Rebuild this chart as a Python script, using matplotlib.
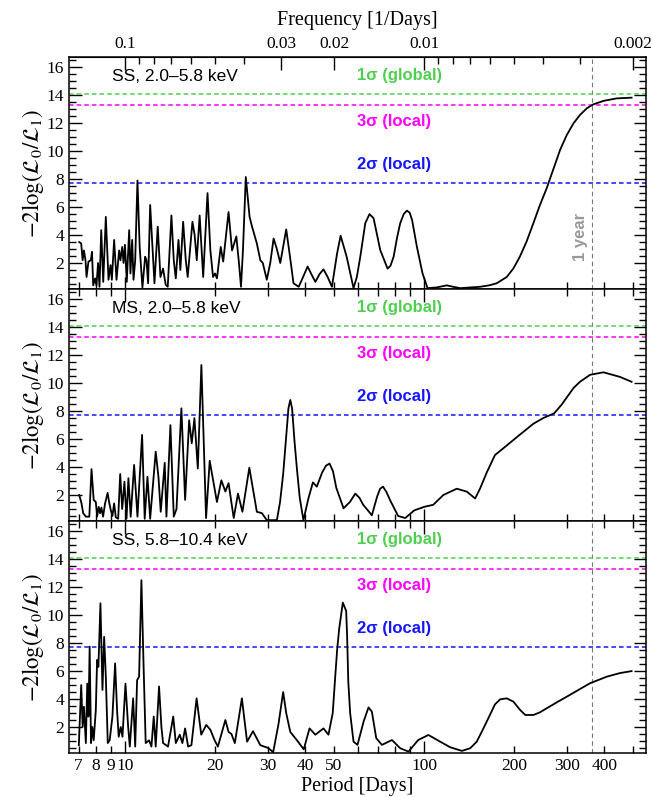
import matplotlib.pyplot as plt
from matplotlib.ticker import FixedLocator, NullFormatter, MultipleLocator

plt.rcParams['font.family'] = 'Liberation Serif'
plt.rcParams['mathtext.fontset'] = 'stix'

# --- data: period [days] vs -2log(L0/L1) ---
ss_soft_period = [7.03, 7.14, 7.22, 7.29, 7.38, 7.44, 7.55, 7.69, 7.76, 7.83, 7.95, 8.03, 8.13, 8.22,
                  8.33, 8.46, 8.63, 8.81, 8.95, 9.04, 9.20, 9.37, 9.56, 9.66, 9.79, 9.89, 10.0, 10.14,
                  10.33, 10.43, 10.57, 10.68, 10.82, 11.01, 11.2, 11.44, 11.68, 11.80, 11.95, 12.14,
                  12.36, 12.55, 12.87, 13.14, 13.41, 13.68, 13.9, 14.3, 14.56, 14.79, 15.1, 15.32,
                  15.65, 15.97, 16.21, 16.81, 17.1, 17.38, 17.77, 18.26, 18.88, 19.3, 19.7, 20.0,
                  20.3, 20.9, 21.3, 22.2, 22.8, 23.57, 24.05, 24.43, 24.8, 25.35, 26.1, 26.6, 27.6,
                  28.35, 28.9, 29.8, 30.6, 31.4, 32.2, 33.06, 34.6, 35.6, 36.6, 38.1, 39.4, 40.8,
                  42.0, 43.3, 44.7, 46.1, 47.6, 49.2, 51.2, 52.6, 55.1, 58.1, 59.6, 61.2, 63.6, 65.7,
                  67.8, 69.5, 71.35, 75.5, 77.2, 79.1, 81.2, 83.2, 85.5, 87.6, 89.5, 91.2, 94.6, 98.8,
                  102.7, 110, 119.1, 125, 132, 143, 154, 165, 175, 189, 199, 209, 220, 232, 244,
                  257, 271, 285, 300, 316, 332, 350, 368, 398, 441, 494]
ss_soft_value = [3.5, 3.4, 2.2, 2.9, 2.2, 1.0, 2.1, 2.2, 2.8, 0.4, 0.9, 0.4, 2.0, 0.3,
                 4.35, 0.65, 5.3, 0.8, 1.85, 0.8, 3.65, 0.8, 2.9, 2.2, 3.15, 2.0, 3.3, 0.65,
                 4.35, 1.25, 3.65, 0.8, 2.2, 7.9, 3.15, 0.25, 2.45, 2.2, 0.55, 6.15,
                 3.15, 0.55, 4.6, 1.0, 1.6, 0.45, 0.3, 5.4, 2.2, 0.9, 3.65, 1.5,
                 4.95, 2.2, 1.0, 4.95, 4.0, 2.2, 5.4, 1.0, 7.0, 2.9, 1.0, 1.25,
                 0.9, 3.15, 2.1, 5.65, 2.9, 3.9, 2.0, 0.3, 2.9, 8.15, 5.3, 4.6, 3.4,
                 2.2, 2.0, 0.8, 2.0, 3.75, 3.0, 2.0, 4.4, 2.5, 0.55, 0.3, 1.0, 1.75,
                 1.2, 0.65, 1.2, 1.55, 1.0, 0.3, 2.7, 3.95, 2.45, 0.2, 1.0, 2.45, 4.85, 5.5,
                 5.2, 4.1, 2.93, 1.6, 1.8, 2.45, 3.8, 4.84, 5.5, 5.75, 5.6, 5.07, 3.17, 1.26,
                 0.2, 0.25, 0.4, 0.3, 0.2, 0.25, 0.3, 0.4, 0.55, 1.0, 1.62, 2.45, 3.52, 4.85, 6.15,
                 7.35, 8.77, 10.1, 11.16, 12.0, 12.59, 13.07, 13.35, 13.6, 13.78, 13.83]

ms_soft_period = [7.03, 7.15, 7.25, 7.40, 7.60, 7.73, 7.86, 7.99, 8.07, 8.17, 8.26, 8.34, 8.45, 8.58,
                  8.75, 8.85, 8.97, 9.08, 9.20, 9.32, 9.49, 9.64, 9.79, 9.96, 10.12, 10.27, 10.45,
                  10.73, 11.01, 11.41, 11.64, 11.89, 12.14, 12.67, 12.94, 13.17, 13.58, 13.76, 14.19,
                  14.56, 14.87, 15.44, 15.89, 16.39, 16.72, 17.07, 17.52, 18.01, 18.67, 19.2, 20.3,
                  21.0, 21.66, 22.2, 23.1, 23.87, 24.7, 26.05, 27.6, 28.7, 29.8, 32.2, 33.0, 33.8,
                  34.6, 35.2, 35.7, 36.2, 36.9, 37.6, 38.4, 39.5, 41.1, 42.5, 43.8, 45.6, 47.0, 48.3,
                  49.6, 50.9, 53.8, 56.5, 58.9, 60.8, 62.6, 66.9, 69.7, 71.3, 72.9, 74.9, 77.1, 81.9,
                  86.5, 92.7, 100.0, 107.3, 116.0, 128.6, 139.0, 148.2, 154.0, 162.3, 172.6, 184.2,
                  204.5, 232.0, 250.0, 272.4, 288.0, 315.8, 332.0, 358.8, 397.8, 451.9, 494]
ms_soft_value = [2.0, 1.45, 0.7, 0.45, 0.45, 3.85, 1.65, 1.5, 0.45, 1.15, 0.7, 1.1, 0.45, 1.4,
                 2.15, 1.5, 0.9, 0.5, 1.4, 0.4, 0.3, 3.5, 1.0, 2.95, 0.3, 3.2, 0.45,
                 4.15, 0.45, 6.3, 0.3, 3.3, 0.3, 5.1, 3.3, 0.8, 4.3, 0.45, 7.0,
                 0.45, 1.0, 8.2, 1.65, 7.35, 5.7, 7.5, 3.9, 11.3, 0.35, 4.45, 1.5,
                 3.05, 2.25, 2.85, 0.35, 2.1, 0.8, 3.95, 0.8, 0.7, 0.2, 0.2, 1.5, 3.5,
                 6.2, 8.2, 8.8, 8.2, 5.8, 3.8, 1.8, 0.2, 1.8, 2.9, 2.6, 3.6, 4.1, 4.25,
                 3.7, 2.5, 1.05, 1.5, 2.1, 1.8, 1.3, 0.55, 1.9, 2.45, 2.6, 2.2, 1.6, 0.5,
                 0.35, 0.9, 1.15, 1.3, 2.0, 2.45, 2.24, 1.75, 2.48, 3.65, 4.86, 5.35,
                 6.15, 7.1, 7.5, 7.85, 8.45, 9.65, 10.1, 10.6, 10.78, 10.45, 10.1]

ss_hard_period = [7.01, 7.14, 7.22, 7.29, 7.40, 7.48, 7.55, 7.62, 7.70, 7.78, 7.86, 7.99, 8.07, 8.15,
                  8.28, 8.41, 8.52, 8.63, 8.76, 8.89, 9.08, 9.27, 9.41, 9.53, 9.68, 9.81, 10.04,
                  10.25, 10.38, 10.65, 10.82, 10.98, 11.15, 11.35, 11.55, 11.73, 12.04, 12.26, 12.48,
                  12.67, 13.0, 13.24, 13.41, 13.93, 14.5, 14.79, 15.25, 15.56, 15.89, 16.26, 16.68,
                  17.36, 17.99, 18.7, 19.3, 19.94, 20.45, 21.66, 22.2, 22.7, 23.3, 24.6, 25.6, 26.8,
                  28.35, 30.1, 31.3, 32.6, 33.8, 34.6, 35.7, 37.9, 39.6, 41.4, 43.3, 46.1, 47.9,
                  49.5, 50.5, 51.2, 52.0, 53.5, 54.9, 55.3, 55.8, 56.6, 58.1, 59.9, 62.8, 65.2, 66.9,
                  69.2, 72.3, 78.1, 83.2, 88.7, 95.6, 103.4, 113.2, 122.3, 133.8, 142.6, 150.0, 157.9,
                  166.0, 172.6, 179.6, 189.0, 199.0, 209.4, 218.0, 232.0, 244.0, 257.0, 278.0, 300.0,
                  328.0, 358.8, 407.9, 451.9, 494]
ss_hard_value = [0.7, 5.0, 2.0, 3.45, 0.85, 5.1, 2.75, 7.75, 0.85, 2.0, 1.05, 3.2, 6.8, 6.3,
                 10.85, 4.65, 8.45, 5.6, 0.85, 1.05, 2.75, 6.55, 3.2, 1.3, 2.0, 1.3, 5.1,
                 2.0, 0.6, 4.05, 0.6, 5.35, 5.6, 12.5, 6.1, 0.85, 1.05, 0.6, 2.75,
                 0.6, 4.9, 2.0, 0.85, 0.6, 2.75, 0.85, 1.45, 0.85, 1.9, 0.6, 0.7,
                 4.05, 1.45, 2.15, 1.8, 1.05, 0.6, 2.5, 1.65, 1.5, 0.85, 4.05, 0.95, 1.7,
                 0.7, 0.5, 0.2, 2.2, 4.5, 3.0, 1.65, 0.95, 0.4, 1.9, 1.45, 1.9, 1.45,
                 3.0, 5.7, 7.5, 9.0, 10.9, 10.3, 8.5, 5.25, 3.0, 0.95, 0.72, 2.4, 3.4, 3.1,
                 1.2, 0.72, 1.07, 0.48, 0.24, 1.07, 1.43, 0.95, 0.55, 0.29, 0.48, 0.95, 1.9,
                 2.86, 3.62, 3.98, 4.05, 3.81, 3.22, 2.86, 2.86, 3.05, 3.34, 3.77, 4.17,
                 4.65, 5.13, 5.6, 5.86, 6.0]

periods = [ss_soft_period, ms_soft_period, ss_hard_period]
values = [ss_soft_value, ms_soft_value, ss_hard_value]
panel_labels = ["SS, 2.0\u20135.8 keV", "MS, 2.0\u20135.8 keV", "SS, 5.8\u201310.4 keV"]

sig_levels = [14.1, 13.33, 7.75]
sig_names = ["1\u03c3 (global)", "3\u03c3 (local)", "2\u03c3 (local)"]
sig_colors = ['#4fcf4f', '#ff00ff', '#1515ff']
sig_text_y = [15.45, 12.1, 9.05]
one_year = 365.25

period_major = [10, 100]
period_minor = [7, 8, 9, 20, 30, 40, 50, 60, 70, 80, 90, 200, 300, 400, 500]
period_minor_labels = ['7', '8', '9', '20', '30', '40', '50', '', '', '', '', '200', '300', '400', '']
freq_ticks = [0.1, 0.03, 0.02, 0.01, 0.002]
freq_labels = ['0.1', '0.03', '0.02', '0.01', '0.002']
freq_minor = [0.09, 0.08, 0.07, 0.06, 0.05, 0.04, 0.009, 0.008, 0.007, 0.006, 0.005, 0.004, 0.003]

fig = plt.figure(figsize=(6.52, 7.97), dpi=100)
left, right = 69 / 652, 646 / 652
top, bottom = 1 - 57 / 797, 1 - 753 / 797
h = (top - bottom) / 3

axes = []
for i in range(3):
    ax = fig.add_axes([left, top - (i + 1) * h, right - left, h],
                      sharex=axes[0] if axes else None)
    axes.append(ax)

for i, ax in enumerate(axes):
    ax.set_xscale('log')
    ax.plot(periods[i], values[i], color='black', lw=1.3, zorder=3)
    for lev, col in zip(sig_levels, sig_colors):
        ax.axhline(lev, color=col, lw=1.1, ls=(0, (3, 2)), zorder=2)
    for name, col, ty in zip(sig_names, sig_colors, sig_text_y):
        ax.text(59.8, ty, name, color=col, fontsize=12, fontweight='bold',
                family='Liberation Sans', va='center', ha='left')
    ax.axvline(one_year, color='#777777', lw=0.8, ls=(0, (4, 3)), zorder=1)
    ax.text(9.08, 15.35, panel_labels[i], fontsize=12.5, family='Liberation Sans',
            va='center', ha='left')

    ax.set_xlim(6.5, 552)
    ax.set_ylim(0.14, 16.74)
    ax.yaxis.set_major_locator(FixedLocator([2, 4, 6, 8, 10, 12, 14, 16]))
    ax.yaxis.set_minor_locator(MultipleLocator(0.5))
    ax.set_ylabel(r'$-2\log(\mathcal{L}_0/\mathcal{L}_1)$', fontsize=16.5)
    ax.yaxis.set_label_coords(-0.04, 0.5)
    ax.tick_params(which='both', direction='in', left=True, right=True,
                   top=(i > 0), bottom=True, labelsize=12.5, width=1.0)
    ax.tick_params(which='major', length=9)
    ax.tick_params(which='minor', length=5)
    for sp in ax.spines.values():
        sp.set_linewidth(1.1)

axes[0].text(333, 3.9, '1 year', rotation=90, color='#999999', fontsize=12,
             fontweight='bold', family='Liberation Sans', ha='center', va='center')

ax = axes[2]
ax.xaxis.set_major_locator(FixedLocator(period_major))
ax.xaxis.set_minor_locator(FixedLocator(period_minor))
ax.set_xticklabels(['10', '100'])
ax.set_xticklabels(period_minor_labels, minor=True)
ax.set_xlabel('Period [Days]', fontsize=14.5, labelpad=2)
for a in axes[:2]:
    a.tick_params(which='both', labelbottom=False)

sec = axes[0].secondary_xaxis('top', functions=(lambda p: 1 / p, lambda f: 1 / f))
sec.set_xticks(freq_ticks)
sec.set_xticklabels(freq_labels)
sec.xaxis.set_minor_locator(FixedLocator(freq_minor))
sec.xaxis.set_minor_formatter(NullFormatter())
sec.tick_params(which='both', direction='in', labelsize=12.5, width=1.0)
sec.tick_params(which='major', length=9)
sec.tick_params(which='minor', length=5)
sec.set_xlabel('Frequency [1/Days]', fontsize=14.5, labelpad=8)

fig.savefig('out.png', dpi=100)
